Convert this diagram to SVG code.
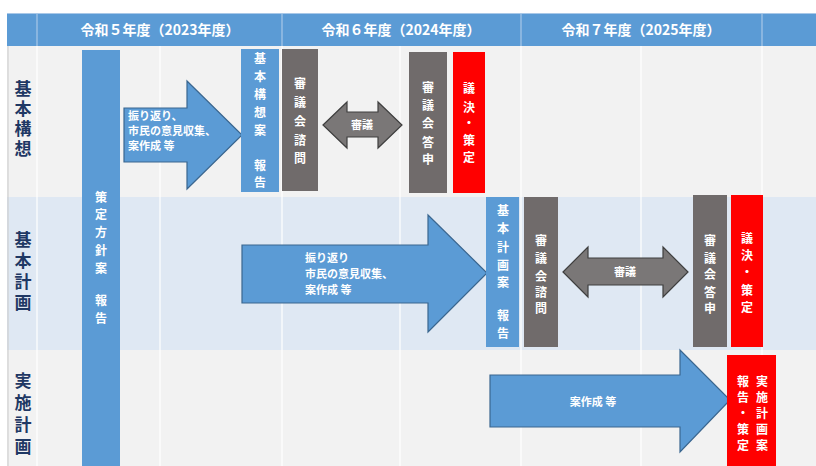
<svg xmlns="http://www.w3.org/2000/svg" width="816" height="466" viewBox="0 0 816 466">
<style>
text{font-family:"Noto Sans CJK JP","Noto Sans",sans-serif;}
.hdr{fill:#fff;font-size:14px;font-weight:bold;text-anchor:middle;}
.rl{fill:#1f3864;font-size:17px;font-weight:bold;writing-mode:vertical-rl;text-anchor:start;}
.vt{fill:#fff;font-size:12px;font-weight:bold;text-anchor:middle;}
.at{fill:#fff;font-size:11px;font-weight:bold;}
.blue{fill:#5b9bd5;}
.gray{fill:#706b6b;}
.red{fill:#ff0000;}
.barrow{fill:#5b9bd5;stroke:#3a668f;stroke-width:1.2;}
.garrow{fill:#7a7777;stroke:#3f3f3f;stroke-width:1.2;}
.grid{stroke:#ffffff;stroke-width:1.2;}
</style>
<rect width="816" height="466" fill="#ffffff"/>
<g id="table">
<rect x="7" y="46" width="809" height="151" fill="#f2f2f2"/>
<rect x="7" y="197" width="809" height="153" fill="#dfe8f3"/>
<rect x="7" y="350" width="809" height="116" fill="#f2f2f2"/>
<line x1="8" y1="46" x2="8" y2="466" stroke="#c9c9c9" stroke-width="1"/>
<g class="grid">
<line x1="37" y1="46" x2="37" y2="466"/>
<line x1="160" y1="46" x2="160" y2="466"/>
<line x1="282" y1="46" x2="282" y2="466"/>
<line x1="400" y1="46" x2="400" y2="466"/>
<line x1="521" y1="46" x2="521" y2="466"/>
<line x1="641" y1="46" x2="641" y2="466"/>
<line x1="762" y1="46" x2="762" y2="466"/>
</g>
<rect x="7" y="13" width="809" height="33" fill="#5b9bd5"/>
<line x1="7" y1="13.5" x2="816" y2="13.5" stroke="#a9c8e8" stroke-width="1"/>
<g stroke="#a9c8e8" stroke-width="1.2">
<line x1="37" y1="14" x2="37" y2="46"/>
<line x1="282" y1="14" x2="282" y2="46"/>
<line x1="521" y1="14" x2="521" y2="46"/>
<line x1="762" y1="14" x2="762" y2="46"/>
</g>
<text class="hdr" x="160" y="35">令和５年度（2023年度）</text>
<text class="hdr" x="401" y="35">令和６年度（2024年度）</text>
<text class="hdr" x="641" y="35">令和７年度（2025年度）</text>
<text class="rl" x="23" y="80" letter-spacing="3">基本構想</text>
<text class="rl" x="23" y="231" letter-spacing="4">基本計画</text>
<text class="rl" x="23" y="372" letter-spacing="5">実施計画</text>
</g>
<g id="policy-report">
<rect class="blue" x="82" y="50" width="38" height="416"/>
<text class="vt"><tspan x="101" y="202">策</tspan><tspan x="101" y="219">定</tspan><tspan x="101" y="237">方</tspan><tspan x="101" y="255">針</tspan><tspan x="101" y="273">案</tspan><tspan x="101" y="305">報</tspan><tspan x="101" y="323">告</tspan></text>
</g>
<g id="connectors">
<g id="arrow-kousou">
<polygon class="barrow" points="124,108 187,108 187,81 242,135 187,189 187,162 124,162"/>
<text class="at"><tspan x="128" y="120">振り返り、</tspan><tspan x="128" y="135">市民の意見収集、</tspan><tspan x="128" y="150">案作成 等</tspan></text>
</g>
<g id="shingi-kousou">
<polygon class="garrow" points="323,125 347,102 347,112 378,112 378,102 402,125 378,148 378,137 347,137 347,148"/>
<text class="at" x="362" y="129" text-anchor="middle">審議</text>
</g>
<g id="arrow-keikaku">
<polygon class="barrow" points="242,245 428,245 428,215 487,273 428,332 428,303 242,303"/>
<text class="at" font-size="12"><tspan x="305" y="262">振り返り</tspan><tspan x="305" y="278">市民の意見収集、</tspan><tspan x="305" y="294">案作成 等</tspan></text>
</g>
<g id="shingi-keikaku">
<polygon class="garrow" points="563,272 588,247 588,258 663,258 663,247 688,272 663,297 663,285 588,285 588,297"/>
<text class="at" x="625" y="276" text-anchor="middle">審議</text>
</g>
<g id="arrow-jisshi">
<polygon class="barrow" points="490,375 680,375 680,350 730,400 680,452 680,427 490,427"/>
<text class="at" x="593" y="406" text-anchor="middle" font-size="12">案作成 等</text>
</g>
</g>
<g id="kousou-report">
<rect class="blue" x="241" y="49" width="38" height="143"/>
<text class="vt"><tspan x="260" y="63">基</tspan><tspan x="260" y="81">本</tspan><tspan x="260" y="99">構</tspan><tspan x="260" y="117">想</tspan><tspan x="260" y="135">案</tspan><tspan x="260" y="170">報</tspan><tspan x="260" y="187">告</tspan></text>
</g>
<g id="kousou-shimon">
<rect class="gray" x="282" y="49" width="36" height="142"/>
<text class="vt"><tspan x="300" y="88">審</tspan><tspan x="300" y="107">議</tspan><tspan x="300" y="126">会</tspan><tspan x="300" y="145">諮</tspan><tspan x="300" y="163">問</tspan></text>
</g>
<g id="kousou-toushin">
<rect class="gray" x="409" y="52" width="38" height="141"/>
<text class="vt"><tspan x="428" y="92">審</tspan><tspan x="428" y="110">議</tspan><tspan x="428" y="128">会</tspan><tspan x="428" y="147">答</tspan><tspan x="428" y="164">申</tspan></text>
</g>
<g id="kousou-giketsu">
<rect class="red" x="453" y="52" width="32" height="141"/>
<text class="vt"><tspan x="469" y="93">議</tspan><tspan x="469" y="112">決</tspan><tspan x="469" y="128">・</tspan><tspan x="469" y="145">策</tspan><tspan x="469" y="162">定</tspan></text>
</g>
<g id="keikaku-report">
<rect class="blue" x="486" y="197" width="33" height="150"/>
<text class="vt"><tspan x="503" y="215">基</tspan><tspan x="503" y="233">本</tspan><tspan x="503" y="252">計</tspan><tspan x="503" y="270">画</tspan><tspan x="503" y="287">案</tspan><tspan x="503" y="320">報</tspan><tspan x="503" y="338">告</tspan></text>
</g>
<g id="keikaku-shimon">
<rect class="gray" x="524" y="197" width="34" height="150"/>
<text class="vt"><tspan x="541" y="245">審</tspan><tspan x="541" y="263">議</tspan><tspan x="541" y="281">会</tspan><tspan x="541" y="297">諮</tspan><tspan x="541" y="313">問</tspan></text>
</g>
<g id="keikaku-toushin">
<rect class="gray" x="693" y="195" width="34" height="152"/>
<text class="vt"><tspan x="710" y="245">審</tspan><tspan x="710" y="263">議</tspan><tspan x="710" y="279">会</tspan><tspan x="710" y="297">答</tspan><tspan x="710" y="313">申</tspan></text>
</g>
<g id="keikaku-giketsu">
<rect class="red" x="731" y="195" width="32" height="152"/>
<text class="vt"><tspan x="747" y="243">議</tspan><tspan x="747" y="260">決</tspan><tspan x="747" y="277">・</tspan><tspan x="747" y="295">策</tspan><tspan x="747" y="312">定</tspan></text>
</g>
<g id="jisshi-box">
<rect class="red" x="727" y="355" width="49" height="111"/>
<text class="vt" font-size="13"><tspan x="762" y="386">実</tspan><tspan x="762" y="402">施</tspan><tspan x="762" y="418">計</tspan><tspan x="762" y="434">画</tspan><tspan x="762" y="450">案</tspan></text>
<text class="vt" font-size="13"><tspan x="743" y="386">報</tspan><tspan x="743" y="402">告</tspan><tspan x="743" y="418">・</tspan><tspan x="743" y="434">策</tspan><tspan x="743" y="450">定</tspan></text>
</g>
</svg>
